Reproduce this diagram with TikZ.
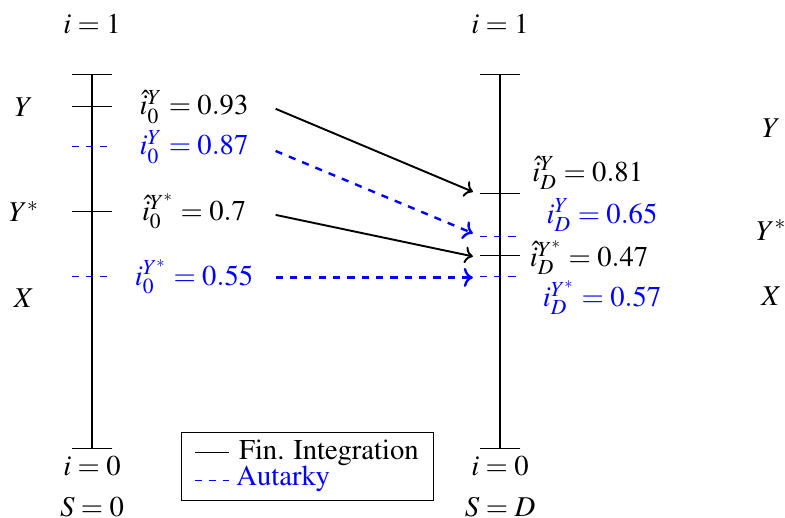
\documentclass[12pt,tikz,border=0pt]{standalone}
\usepackage[T1]{fontenc}
\usepackage{mathptmx}
\usepackage{tikz}
\usetikzlibrary{positioning,arrows.meta,calc}
\usepackage{xcolor}

\begin{document}
\begin{tikzpicture}[
  axisline/.style={draw, thick},
  tick/.style={draw, thin},
  atick/.style={draw, thin, blue, dashed},
  arr/.style={->, thick},
  aarr/.style={->, line width=1pt, blue, dashed},
  lbl/.style={inner sep=1pt},
  albl/.style={inner sep=1pt, text=blue},
]
  \useasboundingbox (-1.353,-1.015) rectangle (10.19,6.60);

  % the two scales
  \coordinate (top0) at (0,5.5);
  \coordinate (bot0) at (0,0);
  \coordinate (topD) at (6,5.5);
  \coordinate (botD) at (6,0);
  \draw[axisline] (bot0) -- (top0);
  \draw[axisline] (botD) -- (topD);
  \draw[tick] (-0.3,5.5) -- (0.3,5.5);
  \draw[tick] (-0.3,0) -- (0.3,0);
  \draw[tick] (5.7,5.5) -- (6.3,5.5);
  \draw[tick] (5.7,0) -- (6.3,0);

  \node[lbl] (i1L) at (0,6.24) {$i=1$};
  \node[lbl] (i1R) at (6,6.24) {$i=1$};
  \node[lbl] (i0L) at (0,-0.26) {$i=0$};
  \node[lbl] (i0R) at (6,-0.26) {$i=0$};
  \node[lbl] (s0) at (0,-0.85) {$S=0$};
  \node[lbl] (sD) at (6,-0.85) {$S=D$};

  % ticks at S=0
  \draw[tick] (-0.3,5.03) -- (0.3,5.03);
  \draw[atick] (-0.3,4.44) -- (0.3,4.44);
  \draw[tick] (-0.3,3.49) -- (0.3,3.49);
  \draw[atick] (-0.3,2.53) -- (0.3,2.53);

  % ticks at S=D
  \draw[tick] (5.7,3.75) -- (6.3,3.75);
  \draw[atick] (5.7,3.13) -- (6.3,3.13);
  \draw[tick] (5.7,2.84) -- (6.3,2.84);
  \draw[atick] (5.7,2.53) -- (6.3,2.53);

  % regions
  \node[lbl] (yL) at (-1.0,5.03) {$Y$};
  \node[lbl] (ysL) at (-1.0,3.49) {$Y^*$};
  \node[lbl] (xL) at (-1.0,2.22) {$X$};
  \node[lbl] (yR) at (9.99,4.72) {$Y$};
  \node[lbl] (ysR) at (9.99,3.22) {$Y^*$};
  \node[lbl] (xR) at (9.99,2.24) {$X$};

  % thresholds
  \node[lbl] (fy0) at (1.5,5.03) {$\hat{i}_0^{Y}=0.93$};
  \node[albl] (ay0) at (1.5,4.44) {$i_0^{Y}=0.87$};
  \node[lbl] (fys0) at (1.5,3.49) {$\hat{i}_0^{Y^*}=0.7$};
  \node[albl] (ays0) at (1.5,2.53) {$i_0^{Y^*}=0.55$};
  \node[lbl] (fyD) at (7.29,4.06) {$\hat{i}_D^{Y}=0.81$};
  \node[albl] (ayD) at (7.5,3.44) {$i_D^{Y}=0.65$};
  \node[lbl] (fysD) at (7.31,2.81) {$\hat{i}_D^{Y^*}=0.47$};
  \node[albl] (aysD) at (7.5,2.22) {$i_D^{Y^*}=0.57$};

  \coordinate (fy0e) at (2.7,5.0);
  \coordinate (ay0e) at (2.7,4.38);
  \coordinate (fys0e) at (2.7,3.44);
  \coordinate (ays0e) at (2.7,2.52);
  \coordinate (fyDw) at (5.6,3.78);
  \coordinate (ayDw) at (5.6,3.17);
  \coordinate (fysDw) at (5.6,2.83);
  \coordinate (aysDw) at (5.6,2.52);

  \draw[arr] (fy0e) -- (fyDw);
  \draw[aarr] (ay0e) -- (ayDw);
  \draw[arr] (fys0e) -- (fysDw);
  \draw[aarr] (ays0e) -- (aysDw);

  % legend
  \node[draw, thin, minimum width=3.7cm, minimum height=1.0cm] (leg) at (3.17,-0.26) {};
  \coordinate (legA) at (1.51,-0.06);
  \coordinate (legB) at (1.51,-0.47);
  \draw[thin] (legA) -- ++(0.5,0);
  \draw[thin, blue, dashed] (legB) -- ++(0.5,0);
  \node[lbl, anchor=west] (legf) at (2.12,-0.06) {Fin. Integration};
  \node[lbl, anchor=west, text=blue] (lega) at (2.08,-0.44) {Autarky};
\end{tikzpicture}
\end{document}
